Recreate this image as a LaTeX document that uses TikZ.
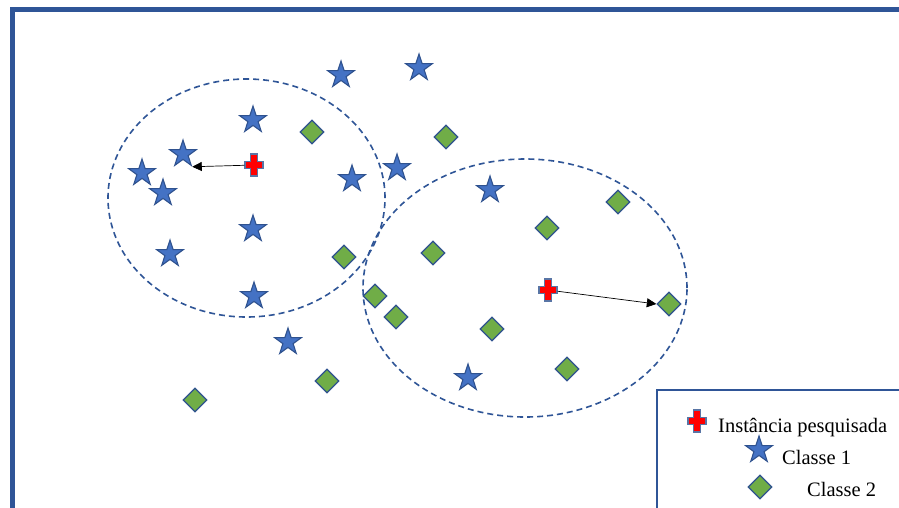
\documentclass[tikz,border=0pt]{standalone}
\usepackage{fontspec}
\setmainfont{Liberation Serif}
\usetikzlibrary{shapes.geometric,arrows.meta}
\definecolor{frameblue}{HTML}{2F5597}
\definecolor{starfill}{HTML}{4472C4}
\definecolor{edgeblue}{HTML}{2F528F}
\definecolor{dgreen}{HTML}{70AD47}
\tikzset{
  starnode/.style={star, star points=5, star point ratio=2.6, minimum size=28pt, inner sep=0pt,
    fill=starfill, draw=edgeblue, line width=1.1pt},
  diamnode/.style={diamond, minimum width=24pt, minimum height=24pt, inner sep=0pt,
    fill=dgreen, draw=edgeblue, line width=1.3pt},
  crossnode/.style={rectangle, minimum width=19pt, minimum height=24pt, inner sep=0pt},
  plusstyle/.style={fill=red, draw=edgeblue!80, line width=1.4pt, line join=miter},
  ellnode/.style={ellipse, draw=frameblue, line width=1.6pt, dash pattern=on 6pt off 4pt, inner sep=0pt},
  arr/.style={-{Triangle[length=9.5pt,width=9pt]}, black, line width=0.7pt},
  legtext/.style={anchor=base west, inner sep=0pt, font=\fontsize{20.5}{24}\selectfont}
}
\newcommand\drawplus[1]{\draw[plusstyle, shift={(#1.center)}]
  (-3.5,-11) -- (3.5,-11) -- (3.5,-3.5) -- (9,-3.5) -- (9,3.5) -- (3.5,3.5) -- (3.5,11)
  -- (-3.5,11) -- (-3.5,3.5) -- (-9,3.5) -- (-9,-3.5) -- (-3.5,-3.5) -- cycle;}
\begin{document}
\begin{tikzpicture}[x=1pt,y=-1pt]
\useasboundingbox (0,0) rectangle (899,507);
\clip (0,0) rectangle (899,507);
\fill[white] (0,0) rectangle (899,507);
% frame
\draw[frameblue, line width=5pt] (12.5,510) -- (12.5,9.5) -- (902,9.5);
% ellipses
\node[ellnode, minimum width=277pt, minimum height=238pt] (e1) at (246.5,198) {};
\node[ellnode, minimum width=324pt, minimum height=258pt] (e2) at (525,288) {};
% stars
\foreach \n/\x/\y in {s1/341/75, s2/419/68, s3/253/120, s4/183/154, s5/142/173, s6/163/193,
  s7/352/179, s8/397/168, s9/490/190, s10/253/229, s11/170/254, s12/254/296, s13/288/342, s14/468/378}
  \node[starnode] (\n) at (\x,\y) {};
% diamonds
\foreach \n/\x/\y in {d1/312/132, d2/446/137, d3/618/202, d4/547/228, d5/433/253, d6/344/257,
  d7/375/296, d8/396/317, d9/492/329, d10/669/304, d11/567/369, d12/327/381, d13/195/400}
  \node[diamnode] (\n) at (\x,\y) {};
% query instances
\node[crossnode] (q1) at (254,165) {};
\node[crossnode] (q2) at (548,290) {};
\drawplus{q1}
\drawplus{q2}
% arrows
\draw[arr] (q1) -- (s4.outer point 4);
\draw[arr] (q2) -- (d10.west);
% legend
\draw[frameblue, line width=1.2pt] (657,510) -- (657,390) -- (902,390);
\node[crossnode] (lq) at (697,421) {};
\drawplus{lq}
\node[legtext] (lt1) at (718,432) {Instância pesquisada};
\node[starnode] (ls) at (759,450) {};
\node[legtext] (lt2) at (782,464) {Classe 1};
\node[diamnode] (ld) at (760,487) {};
\node[legtext] (lt3) at (807,496) {Classe 2};
\end{tikzpicture}
\end{document}
